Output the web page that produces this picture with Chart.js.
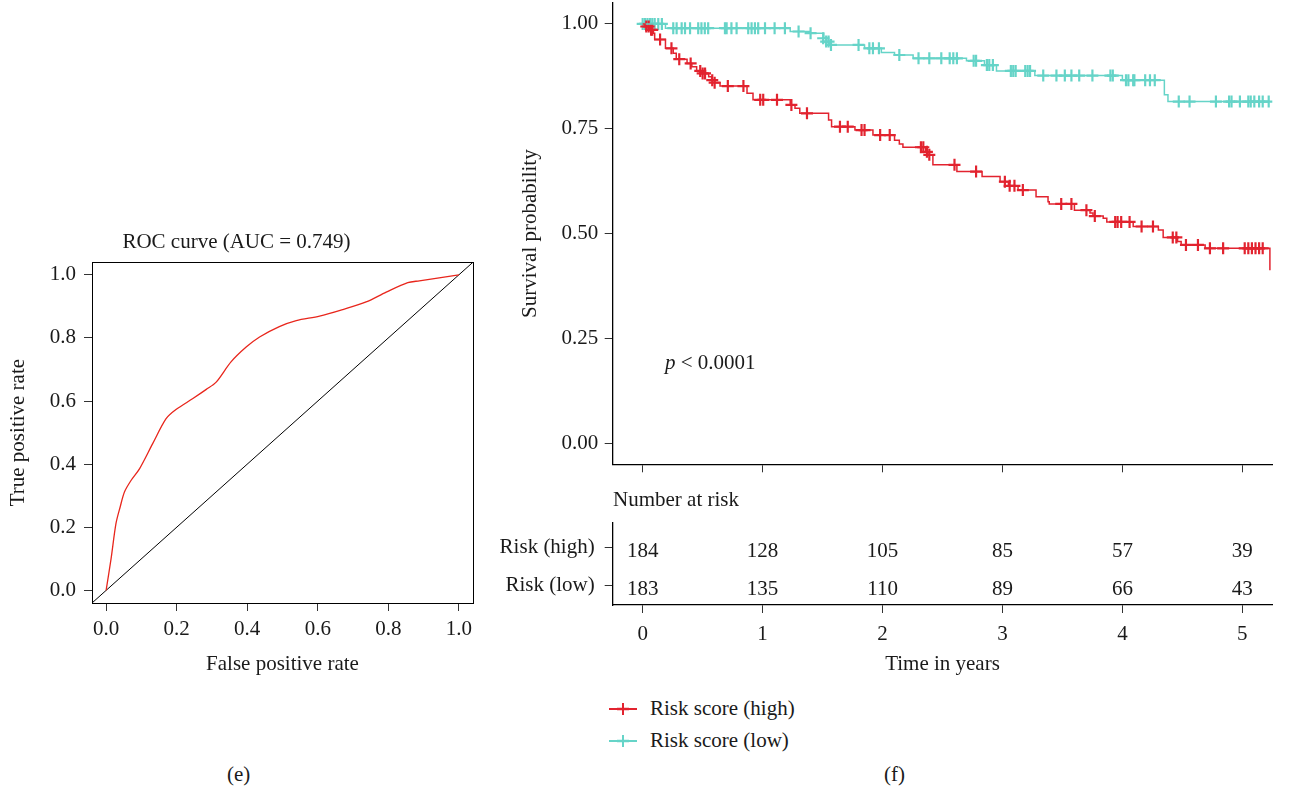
<!DOCTYPE html>
<html lang="en">
<head>
<meta charset="UTF-8">
<title>ROC curve and survival by risk score</title>
<script src="https://cdn.jsdelivr.net/npm/chart.js"></script>
<style>
  body { margin: 0; background: #fff; }
  #page { position: relative; width: 1289px; height: 795px; overflow: hidden; font-family: "Liberation Serif", "Times New Roman", serif; color: #1a1a1a; }
  canvas { position: absolute; }
  .txt { position: absolute; font-size: 21px; line-height: 21px; white-space: nowrap; }
  .key { position: absolute; }
</style>
</head>
<body>
<div id="page">
  <canvas id="roc" width="565" height="460" style="left:0;top:220px;width:565px;height:460px"></canvas>
  <canvas id="km" width="776" height="530" style="left:513px;top:-30px;width:776px;height:530px"></canvas>
  <canvas id="risk" width="809" height="200" style="left:480px;top:480px;width:809px;height:200px"></canvas>

  <div class="txt" style="left:665px;top:352px"><i>p</i> &lt; 0.0001</div>
  <div class="txt" style="left:613px;top:489px">Number at risk</div>

  <svg class="key" style="left:607px;top:701px" width="32" height="16">
    <line x1="2" y1="8" x2="30" y2="8" stroke="#e2232f" stroke-width="2"/>
    <line x1="16" y1="2" x2="16" y2="14" stroke="#e2232f" stroke-width="2"/>
    <line x1="10" y1="8" x2="22" y2="8" stroke="#e2232f" stroke-width="2.5"/>
  </svg>
  <div class="txt" style="left:650px;top:698px">Risk score (high)</div>
  <svg class="key" style="left:607px;top:733px" width="32" height="16">
    <line x1="2" y1="8" x2="30" y2="8" stroke="#66d4c8" stroke-width="2"/>
    <line x1="16" y1="2" x2="16" y2="14" stroke="#66d4c8" stroke-width="2"/>
    <line x1="10" y1="8" x2="22" y2="8" stroke="#66d4c8" stroke-width="2.5"/>
  </svg>
  <div class="txt" style="left:650px;top:730px">Risk score (low)</div>

  <div class="txt" style="left:227px;top:764px">(e)</div>
  <div class="txt" style="left:884px;top:764px">(f)</div>
</div>

<script>
// ROC curve (panel e)
const rocFpr = [0, 0.014, 0.028, 0.040, 0.052, 0.071, 0.095, 0.132, 0.170, 0.198, 0.246, 0.284, 0.312, 0.354, 0.397, 0.435, 0.491, 0.539, 0.605, 0.671, 0.737, 0.794, 0.855, 0.888, 1.0];
const rocTpr = [0, 0.100, 0.212, 0.265, 0.312, 0.349, 0.386, 0.465, 0.544, 0.573, 0.608, 0.637, 0.660, 0.724, 0.771, 0.803, 0.836, 0.855, 0.869, 0.890, 0.914, 0.945, 0.975, 0.981, 1.0];
const diagonal = [-0.04, 1.04];
const rocTicks = [0, 0.2, 0.4, 0.6, 0.8, 1.0];

// Kaplan-Meier steps (time in years, survival) - panel f
const highT = [0, 0.02, 0.06, 0.09, 0.10, 0.19, 0.255, 0.28, 0.37, 0.41, 0.45, 0.49, 0.55, 0.575, 0.60, 0.645, 0.87, 0.92, 1.23, 1.27, 1.31, 1.55, 1.575, 1.77, 1.92, 2.10, 2.14, 2.17, 2.36, 2.39, 2.42, 2.62, 2.83, 2.98, 3.05, 3.13, 3.28, 3.38, 3.39, 3.60, 3.73, 3.755, 3.84, 3.87, 4.09, 4.30, 4.34, 4.46, 4.49, 4.69, 5.23];
const highS = [1.0, 0.994, 0.986, 0.978, 0.963, 0.942, 0.930, 0.916, 0.906, 0.898, 0.888, 0.882, 0.874, 0.866, 0.860, 0.852, 0.835, 0.819, 0.807, 0.799, 0.787, 0.771, 0.755, 0.747, 0.735, 0.723, 0.714, 0.706, 0.695, 0.688, 0.664, 0.648, 0.636, 0.624, 0.614, 0.604, 0.588, 0.576, 0.571, 0.556, 0.549, 0.542, 0.537, 0.528, 0.517, 0.509, 0.491, 0.481, 0.473, 0.465, 0.413];
const lowT = [0, 0.19, 1.23, 1.39, 1.51, 1.55, 1.56, 1.85, 1.99, 2.10, 2.255, 2.70, 2.85, 2.95, 3.27, 4.00, 4.35, 4.38, 5.23];
const lowS = [1.0, 0.990, 0.982, 0.978, 0.966, 0.958, 0.950, 0.942, 0.932, 0.926, 0.918, 0.912, 0.902, 0.888, 0.877, 0.866, 0.831, 0.815, 0.815];

// censored observations
const highCensT = [0.03, 0.05, 0.07, 0.08, 0.145, 0.24, 0.305, 0.40, 0.48, 0.50, 0.52, 0.58, 0.60, 0.71, 0.84, 0.98, 1.005, 1.12, 1.24, 1.37, 1.645, 1.71, 1.825, 1.85, 1.98, 2.06, 2.32, 2.34, 2.37, 2.39, 2.60, 2.78, 3.02, 3.06, 3.10, 3.17, 3.49, 3.575, 3.70, 3.77, 3.94, 3.96, 3.99, 4.06, 4.16, 4.255, 4.42, 4.45, 4.53, 4.63, 4.73, 4.84, 5.02, 5.05, 5.08, 5.11, 5.14, 5.17];
const highCensS = [0.994, 0.994, 0.986, 0.986, 0.963, 0.942, 0.916, 0.906, 0.888, 0.882, 0.882, 0.866, 0.860, 0.852, 0.852, 0.819, 0.819, 0.819, 0.807, 0.787, 0.755, 0.755, 0.747, 0.747, 0.735, 0.735, 0.706, 0.706, 0.695, 0.688, 0.664, 0.648, 0.624, 0.614, 0.614, 0.604, 0.571, 0.571, 0.556, 0.542, 0.528, 0.528, 0.528, 0.528, 0.517, 0.517, 0.491, 0.491, 0.473, 0.473, 0.465, 0.465, 0.465, 0.465, 0.465, 0.465, 0.465, 0.465];
const lowCensT = [0.0, 0.02, 0.04, 0.06, 0.08, 0.10, 0.13, 0.16, 0.255, 0.283, 0.325, 0.353, 0.395, 0.463, 0.49, 0.518, 0.546, 0.686, 0.70, 0.74, 0.783, 0.88, 0.908, 0.936, 0.963, 1.02, 1.10, 1.186, 1.30, 1.40, 1.505, 1.53, 1.55, 1.57, 1.80, 1.89, 1.92, 1.97, 2.14, 2.30, 2.39, 2.49, 2.56, 2.59, 2.62, 2.76, 2.78, 2.87, 2.89, 2.92, 3.07, 3.09, 3.11, 3.19, 3.21, 3.23, 3.34, 3.45, 3.52, 3.575, 3.64, 3.75, 3.90, 3.92, 4.03, 4.05, 4.09, 4.10, 4.19, 4.23, 4.27, 4.47, 4.56, 4.78, 4.89, 4.91, 4.98, 5.05, 5.07, 5.10, 5.14, 5.17, 5.22];
const lowCensS = [1.0, 1.0, 1.0, 1.0, 1.0, 1.0, 1.0, 1.0, 0.990, 0.990, 0.990, 0.990, 0.990, 0.990, 0.990, 0.990, 0.990, 0.990, 0.990, 0.990, 0.990, 0.990, 0.990, 0.990, 0.990, 0.990, 0.990, 0.990, 0.982, 0.978, 0.966, 0.958, 0.958, 0.950, 0.950, 0.942, 0.942, 0.942, 0.926, 0.918, 0.918, 0.918, 0.918, 0.918, 0.918, 0.912, 0.912, 0.902, 0.902, 0.902, 0.888, 0.888, 0.888, 0.888, 0.888, 0.888, 0.877, 0.877, 0.877, 0.877, 0.877, 0.877, 0.877, 0.877, 0.866, 0.866, 0.866, 0.866, 0.866, 0.866, 0.866, 0.815, 0.815, 0.815, 0.815, 0.815, 0.815, 0.815, 0.815, 0.815, 0.815, 0.815, 0.815];

const survTicks = [0, 0.25, 0.5, 0.75, 1.0];
const yearTicks = [0, 1, 2, 3, 4, 5];

// number at risk table
const riskGroups = ['Risk (high)', 'Risk (low)'];
const riskHigh = [184, 128, 105, 85, 57, 39];
const riskLow = [183, 135, 110, 89, 66, 43];

const red = '#e2232f';
const teal = '#66d4c8';
const ink = '#1a1a1a';
const serif = '"Liberation Serif", "Times New Roman", serif';

Chart.defaults.font.family = serif;
Chart.defaults.font.size = 21;
Chart.defaults.color = ink;
Chart.defaults.animation = false;
Chart.defaults.plugins.legend.display = false;
Chart.defaults.plugins.tooltip.enabled = false;

const pts = (xs, ys) => xs.map((x, i) => ({ x: x, y: ys[i] }));
const fixTicks = vals => axis => { axis.ticks = vals.map(v => ({ value: v })); };

// full frame round the ROC plot
const boxPlugin = {
  id: 'box',
  afterDraw(chart) {
    const a = chart.chartArea, g = chart.ctx;
    g.save();
    g.strokeStyle = '#000';
    g.lineWidth = 1;
    g.strokeRect(Math.round(a.left) + 0.5, Math.round(a.top) + 0.5, Math.round(a.right - a.left), Math.round(a.bottom - a.top));
    g.restore();
  }
};

new Chart(document.getElementById('roc'), {
  type: 'line',
  data: {
    datasets: [
      { data: pts(rocFpr, rocTpr), borderColor: '#e8261c', borderWidth: 1.3, pointRadius: 0, tension: 0.3 },
      { data: pts(diagonal, diagonal), borderColor: '#000', borderWidth: 1, pointRadius: 0 }
    ]
  },
  options: {
    responsive: false,
    layout: { autoPadding: false, padding: { left: 0, right: 92, top: 0, bottom: 0 } },
    plugins: {
      title: { display: true, text: 'ROC curve (AUC = 0.749)', color: ink, font: { size: 21, weight: 'normal' }, padding: { top: 10, bottom: 7 } }
    },
    scales: {
      x: {
        type: 'linear', min: -0.04, max: 1.04,
        afterBuildTicks: fixTicks(rocTicks),
        afterFit: s => { s.height = 77; },
        ticks: { callback: v => v.toFixed(1), padding: 6, maxRotation: 0, autoSkip: false },
        grid: { drawOnChartArea: false, tickLength: 8, tickColor: '#333' },
        border: { color: '#000' },
        title: { display: true, text: 'False positive rate', padding: { top: 0, bottom: 3 } }
      },
      y: {
        type: 'linear', min: -0.04, max: 1.04,
        afterBuildTicks: fixTicks(rocTicks),
        afterFit: s => { s.width = 92; },
        ticks: { callback: v => v.toFixed(1), padding: 8 },
        grid: { drawOnChartArea: false, tickLength: 8, tickColor: '#333' },
        border: { color: '#000' },
        title: { display: true, text: 'True positive rate', padding: { top: 6, bottom: 0 } }
      }
    }
  },
  plugins: [boxPlugin]
});

new Chart(document.getElementById('km'), {
  type: 'line',
  data: {
    datasets: [
      { label: 'Risk score (high)', data: pts(highT, highS), stepped: 'before', borderColor: red, borderWidth: 1.5, pointRadius: 0 },
      { label: 'Risk score (low)', data: pts(lowT, lowS), stepped: 'before', borderColor: teal, borderWidth: 1.5, pointRadius: 0 },
      { data: pts(highCensT, highCensS), showLine: false, pointStyle: 'cross', pointRadius: 6, borderWidth: 2.2, borderColor: red },
      { data: pts(lowCensT, lowCensS), showLine: false, pointStyle: 'cross', pointRadius: 6, borderWidth: 2.2, borderColor: teal }
    ]
  },
  options: {
    responsive: false,
    layout: { autoPadding: false, padding: { left: 0, right: 16.7, top: 33, bottom: 0 } },
    scales: {
      x: {
        type: 'linear', min: -0.25, max: 5.25,
        afterBuildTicks: fixTicks(yearTicks),
        afterFit: s => { s.height = 35.7; },
        ticks: { display: false },
        grid: { drawOnChartArea: false, tickLength: 8, tickColor: '#333' },
        border: { color: '#000', width: 1.3 }
      },
      y: {
        type: 'linear', min: -0.05, max: 1.05,
        afterBuildTicks: fixTicks(survTicks),
        afterFit: s => { s.width = 99.7; },
        ticks: { callback: v => v.toFixed(2), padding: 6.5 },
        grid: { drawOnChartArea: false, tickLength: 8, tickColor: '#333' },
        border: { color: '#000', width: 1.3 },
        title: { display: true, text: 'Survival probability', padding: { top: 4.4, bottom: 0 } }
      }
    }
  }
});

// numbers at risk placed on the table's scales
const riskTextPlugin = {
  id: 'riskText',
  afterDatasetsDraw(chart) {
    const g = chart.ctx, xs = chart.scales.x, ys = chart.scales.y;
    g.save();
    g.font = '21px ' + serif;
    g.fillStyle = ink;
    g.textAlign = 'center';
    g.textBaseline = 'middle';
    yearTicks.forEach((t, i) => {
      g.fillText(String(riskHigh[i]), xs.getPixelForValue(t), ys.getPixelForValue(2) + 4.5);
      g.fillText(String(riskLow[i]), xs.getPixelForValue(t), ys.getPixelForValue(1) + 4.5);
    });
    g.restore();
  }
};

new Chart(document.getElementById('risk'), {
  type: 'scatter',
  data: { datasets: [] },
  options: {
    responsive: false,
    layout: { autoPadding: false, padding: { left: 0, right: 16.7, top: 43, bottom: 0 } },
    scales: {
      x: {
        type: 'linear', min: -0.25, max: 5.25,
        afterBuildTicks: fixTicks(yearTicks),
        afterFit: s => { s.height = 75; },
        ticks: { padding: 9, maxRotation: 0, autoSkip: false },
        grid: { drawOnChartArea: false, tickLength: 8, tickColor: '#333' },
        border: { color: '#000', width: 1.3 },
        title: { display: true, text: 'Time in years', padding: { top: 0, bottom: 3 } }
      },
      y: {
        type: 'linear', min: 0.474, max: 2.632,
        afterBuildTicks: fixTicks([1, 2]),
        afterFit: s => { s.width = 132.7; },
        ticks: { callback: v => (v === 2 ? riskGroups[0] : riskGroups[1]), padding: 10 },
        grid: { drawOnChartArea: false, tickLength: 8, tickColor: '#333' },
        border: { color: '#000', width: 1.3 }
      }
    }
  },
  plugins: [riskTextPlugin]
});
</script>
</body>
</html>
